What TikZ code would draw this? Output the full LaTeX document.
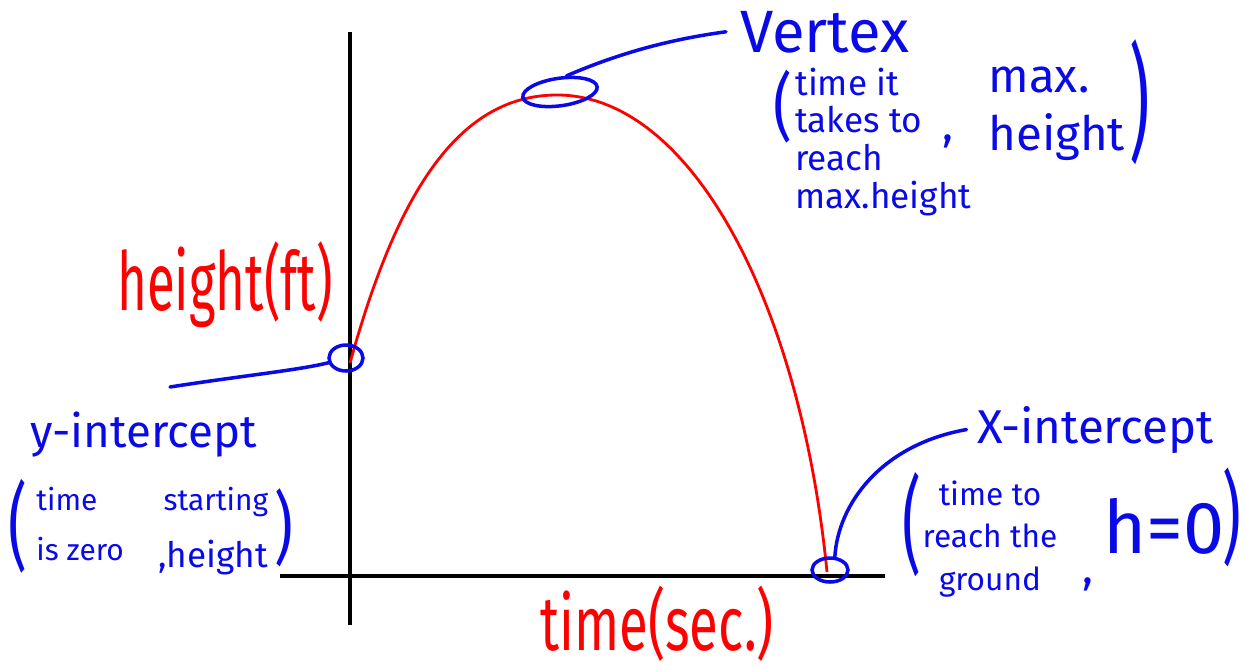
\documentclass[tikz,border=0pt]{standalone}
\usepackage{graphicx}
\usepackage{fontspec}
\setmainfont{Fira Sans}
\usepackage{tikz}
\usetikzlibrary{positioning, shapes.geometric, calc}
\definecolor{hwBlue}{HTML}{0A0AE6}
\definecolor{hwRed}{HTML}{FF0000}
\newcommand{\fsz}[1]{\fontsize{#1}{#1}\selectfont}
\newcommand{\tallparen}[3]{\scalebox{#2}[#3]{#1}}
\tikzset{
  axisline/.style={black, line width=2.8pt},
  trajectory/.style={hwRed, line width=1.6pt},
  ringmark/.style={
    ellipse, draw=hwBlue, line width=2pt,
    inner sep=0pt
  },
  leader/.style={hwBlue, line width=2pt, line cap=round},
  note/.style={hwBlue, anchor=base west, inner sep=0pt, font=\fsz{#1}},
  notebox/.style={hwBlue, anchor=base west, inner sep=0pt, align=left},
  redlabel/.style={hwRed, anchor=base west, inner sep=0pt, font=\fsz{#1}},
  bracket/.style={hwBlue, inner sep=0pt, font=\fsz{30}}
}

\begin{document}
\begin{tikzpicture}[x=0.02cm, y=-0.02cm]
      \useasboundingbox (0,0) rectangle (1246,670);
      % axes
      \coordinate (ytop) at (350,32);
      \coordinate (ybot) at (350,625);
      \coordinate (xleft) at (280,576);
      \coordinate (xright) at (885,576);
      \draw[axisline] (ytop) -- (ybot);
      \draw[axisline] (xleft) -- (xright);
      \node[redlabel=29] (hlbl) at (117,310) {\scalebox{1}[1.6]{height(ft)}};
      \node[redlabel=30] (tlbl) at (540,650) {\scalebox{1}[1.45]{time(sec.)}};
      % path of the ball
      \coordinate (start) at (350,363);
      \coordinate (peak) at (557,95);
      \coordinate (land) at (827,572);
      \draw[trajectory] (start) .. controls (395,200) and (455,95) .. (peak)
        .. controls (690,95) and (800,300) .. (land);
      \node[ringmark, minimum width=1.5cm, minimum height=0.55cm, rotate=8] (vtxmark) at (560,92) {};
      \node[ringmark, minimum width=0.68cm, minimum height=0.52cm] (yintmark) at (346,358) {};
      \node[ringmark, minimum width=0.72cm, minimum height=0.48cm] (xintmark) at (830,570) {};
      % vertex
      \node[note=34] (vtxlbl) at (740,52) {Vertex};
      \node[bracket] (vtxlp) at (783,107) {\tallparen{(}{1.1}{1.4}};
      \node[notebox, font=\fontsize{20}{21.4}\selectfont] (vtxtime) at (795,208) {time it\\takes to\\reach\\max.height};
      \node[note=26] (vtxcomma) at (942,140) {,};
      \node[notebox, font=\fontsize{27}{33}\selectfont] (vtxmax) at (988,150) {max.\\height};
      \node[bracket] (vtxrp) at (1140,102) {\tallparen{)}{1.2}{2.4}};
      \draw[leader] (vtxmark.60) .. controls (615,55) and (665,40) .. ([xshift=-8pt]vtxlbl.west);
      % y-intercept
      \coordinate (yleadend) at (170,387);
      \node[note=26] (yintlbl) at (30,447) {y-intercept};
      \node[bracket] (ylp) at (18,526) {\tallparen{(}{1.1}{1.8}};
      \node[notebox, font=\fontsize{17}{28}\selectfont] (ytime) at (36,560) {time\\is zero};
      \node[notebox, font=\fontsize{20}{32}\selectfont] (ystart) at (158,567) {\hspace{3pt}{\fsz{17}starting}\\,height};
      \node[bracket] (yrp) at (284,528) {\tallparen{)}{1.1}{1.5}};
      \draw[leader] (yintmark.195) .. controls (300,370) and (240,376) .. (yleadend);
      % x-intercept
      \node[note=27] (xintlbl) at (977,443) {X-intercept};
      \node[bracket] (xlp) at (912,525) {\tallparen{(}{1.1}{2.0}};
      \node[notebox, align=center, anchor=base, font=\fontsize{18}{24}\selectfont] (xtime) at (990,590) {time to\\reach the\\ground};
      \node[note=26] (xcomma) at (1082,583) {,};
      \node[note=42] (xd) at (1103,553) {h=0};
      \node[bracket] (xrp) at (1232,517) {\tallparen{)}{1.1}{1.9}};
      \draw[leader] (xintmark.70) .. controls (838,505) and (880,445) .. ([xshift=-6pt]xintlbl.west);
    \end{tikzpicture}
\end{document}
